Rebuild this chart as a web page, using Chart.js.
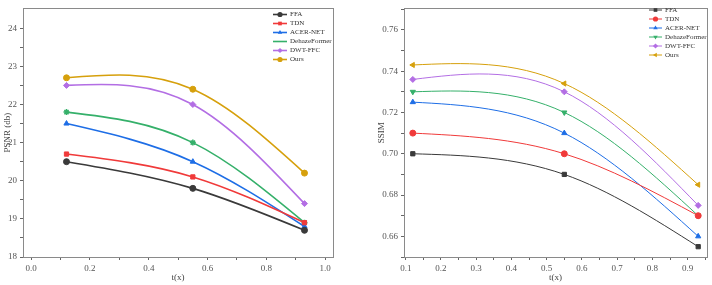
<!DOCTYPE html>
<html>
<head>
<meta charset="utf-8">
<script src="https://cdn.jsdelivr.net/npm/chart.js@4/dist/chart.umd.min.js"></script>
<style>
  html, body { margin: 0; padding: 0; background: #fff; }
  .wrap { display: flex; width: 712px; height: 285px; }
  .box { position: relative; width: 356px; height: 285px; }
</style>
</head>
<body>
<div class="wrap">
  <div class="box"><canvas id="psnrChart" width="356" height="285"></canvas></div>
  <div class="box"><canvas id="ssimChart" width="356" height="285"></canvas></div>
</div>
<script>
// datos
const tValues = [0.12, 0.55, 0.93];
const methods = ['FFA', 'TDN', 'ACER-NET', 'DehazeFormer', 'DWT-FFC', 'Ours'];
const colors = ['#3a3a3a', '#f03a3a', '#1e6ee6', '#35b06a', '#b36ee4', '#d6a00c'];

const psnrFFA = [20.5, 19.8, 18.7];
const psnrTDN = [20.7, 20.1, 18.9];
const psnrACER = [21.5, 20.5, 18.8];
const psnrDehaze = [21.8, 21.0, 18.9];
const psnrDWT = [22.5, 22.0, 19.4];
const psnrOurs = [22.7, 22.4, 20.2];

const ssimFFA = [0.700, 0.690, 0.655];
const ssimTDN = [0.710, 0.700, 0.670];
const ssimACER = [0.725, 0.710, 0.660];
const ssimDehaze = [0.730, 0.720, 0.670];
const ssimDWT = [0.736, 0.730, 0.675];
const ssimOurs = [0.743, 0.734, 0.685];

// ticks
const psnrXTicks = [0, 0.1, 0.2, 0.3, 0.4, 0.5, 0.6, 0.7, 0.8, 0.9, 1.0];
const psnrXLabels = ['0.0', '0.2', '0.4', '0.6', '0.8', '1.0'];
const psnrYTicks = [18, 18.5, 19, 19.5, 20, 20.5, 21, 21.5, 22, 22.5, 23, 23.5, 24];
const psnrYLabels = ['18', '19', '20', '21', '22', '23', '24'];
const ssimXTicks = [0.1, 0.15, 0.2, 0.25, 0.3, 0.35, 0.4, 0.45, 0.5, 0.55, 0.6, 0.65, 0.7, 0.75, 0.8, 0.85, 0.9, 0.95];
const ssimXLabels = ['0.1', '0.2', '0.3', '0.4', '0.5', '0.6', '0.7', '0.8', '0.9'];
const ssimYTicks = [0.65, 0.66, 0.67, 0.68, 0.69, 0.70, 0.71, 0.72, 0.73, 0.74, 0.75, 0.76, 0.77];
const ssimYLabels = ['0.66', '0.68', '0.70', '0.72', '0.74', '0.76'];

const FONT = 'Liberation Serif';

function toPoints(vals) {
    return vals.map((v, i) => ({ x: tValues[i], y: v }));
}

function makeDatasets(series, styles, rotations, radius, width) {
    return series.map((vals, i) => ({
        label: methods[i],
        data: toPoints(vals),
        borderColor: colors[i],
        backgroundColor: colors[i],
        borderWidth: width,
        pointStyle: styles[i],
        rotation: rotations[i],
        pointRadius: radius,
        pointBorderWidth: styles[i] === 'star' ? 1.5 : 1,
        tension: 0.4,
        fill: false
    }));
}

// pendientes de spline natural (como Origin)
function naturalSlopes(xs, ys) {
    const n = xs.length;
    const h = [], s = [];
    for (let i = 0; i < n - 1; i++) {
        h.push(xs[i + 1] - xs[i]);
        s.push((ys[i + 1] - ys[i]) / h[i]);
    }
    const M = new Array(n).fill(0);
    if (n > 2) {
        // sistema tridiagonal para M[1..n-2]
        const a = [], b = [], c = [], d = [];
        for (let i = 1; i < n - 1; i++) {
            a.push(h[i - 1]); b.push(2 * (h[i - 1] + h[i])); c.push(h[i]);
            d.push(6 * (s[i] - s[i - 1]));
        }
        const m = b.length;
        for (let i = 1; i < m; i++) {
            const w = a[i] / b[i - 1];
            b[i] -= w * c[i - 1];
            d[i] -= w * d[i - 1];
        }
        const sol = new Array(m);
        sol[m - 1] = d[m - 1] / b[m - 1];
        for (let i = m - 2; i >= 0; i--) sol[i] = (d[i] - c[i] * sol[i + 1]) / b[i];
        for (let i = 0; i < m; i++) M[i + 1] = sol[i];
    }
    const slopes = [];
    for (let i = 0; i < n - 1; i++) slopes.push(s[i] - h[i] * (2 * M[i] + M[i + 1]) / 6);
    slopes.push(s[n - 2] + h[n - 2] * (M[n - 2] + 2 * M[n - 1]) / 6);
    return slopes;
}

const splinePlugin = {
    id: 'spline',
    beforeDatasetDraw(chart, args) {
        const meta = args.meta;
        const line = meta.dataset;
        const pts = meta.data;
        if (!line || pts.length < 3) return;
        line.updateControlPoints(chart.chartArea);
        const xs = pts.map(p => p.x), ys = pts.map(p => p.y);
        const d = naturalSlopes(xs, ys);
        for (let i = 0; i < pts.length - 1; i++) {
            const hh = (xs[i + 1] - xs[i]) / 3;
            pts[i].cp2x = xs[i] + hh;
            pts[i].cp2y = ys[i] + d[i] * hh;
            pts[i + 1].cp1x = xs[i + 1] - hh;
            pts[i + 1].cp1y = ys[i + 1] - d[i + 1] * hh;
        }
    }
};

// marco + leyenda
const framePlugin = {
    id: 'frame',
    afterDraw(chart) {
        const a = chart.chartArea;
        const ctx = chart.ctx;
        ctx.save();
        ctx.strokeStyle = '#8a8a8a';
        ctx.lineWidth = 1;
        ctx.strokeRect(Math.round(a.left) + 0.5, Math.round(a.top) + 0.5,
            Math.round(a.right - a.left), Math.round(a.bottom - a.top));
        ctx.restore();

        const lg = chart.options.plugins.boxLegend;
        if (!lg) return;
        ctx.save();
        ctx.font = lg.fontSize + 'px "' + FONT + '"';
        ctx.textBaseline = 'middle';
        chart.data.datasets.forEach((ds, i) => {
            const y = lg.y + i * lg.step;
            ctx.strokeStyle = ds.borderColor;
            ctx.fillStyle = ds.backgroundColor;
            ctx.lineWidth = lg.lineWidth;
            ctx.beginPath();
            ctx.moveTo(lg.x, y);
            ctx.lineTo(lg.x + lg.len, y);
            ctx.stroke();
            ctx.lineWidth = ds.pointBorderWidth;
            Chart.helpers.drawPoint(ctx, {
                pointStyle: ds.pointStyle, radius: lg.radius, rotation: ds.rotation || 0
            }, lg.x + lg.len / 2, y);
            ctx.fillStyle = '#333';
            ctx.fillText(ds.label, lg.x + lg.len + 3, y);
        });
        ctx.restore();
    }
};

function axisOpts(min, max, tickVals, labels, fixed, isY, title, titlePad) {
    return {
        type: 'linear',
        min: min,
        max: max,
        afterBuildTicks: s => { s.ticks = tickVals.map(v => ({ value: v })); },
        afterFit: s => { if (isY) s.width = fixed; else s.height = fixed; },
        ticks: {
            autoSkip: false,
            maxRotation: 0,
            padding: 3,
            color: '#555',
            font: { family: FONT, size: 9 },
            callback: v => {
                const hit = labels.find(l => Math.abs(parseFloat(l) - v) < 1e-6);
                return hit !== undefined ? hit : '';
            }
        },
        grid: {
            display: true,
            drawOnChartArea: false,
            drawTicks: true,
            tickLength: 3,
            tickColor: '#666'
        },
        border: { display: true, color: '#8a8a8a', width: 1 },
        title: {
            display: true,
            text: title,
            color: '#444',
            font: { family: FONT, size: 9 },
            padding: titlePad
        }
    };
}

new Chart(document.getElementById('psnrChart'), {
    type: 'line',
    data: {
        datasets: makeDatasets(
            [psnrFFA, psnrTDN, psnrACER, psnrDehaze, psnrDWT, psnrOurs],
            ['circle', 'rect', 'triangle', 'star', 'rectRot', 'circle'],
            [0, 0, 0, 0, 0, 0], 3, 1.6)
    },
    plugins: [splinePlugin, framePlugin],
    options: {
        responsive: false,
        animation: false,
        layout: { padding: { top: 3, right: 23, left: 0, bottom: 0 } },
        scales: {
            x: axisOpts(-0.028, 1.027, psnrXTicks, psnrXLabels, 28, false, 't(x)', { top: 0, bottom: 2 }),
            y: axisOpts(18, 24.52, psnrYTicks, psnrYLabels, 23, true, 'PSNR (db)', { top: 2, bottom: 0 })
        },
        plugins: {
            legend: { display: false },
            tooltip: { enabled: false },
            boxLegend: { x: 273, y: 14.5, step: 9, len: 14, radius: 2.6, lineWidth: 1.6, fontSize: 7 }
        }
    }
});

new Chart(document.getElementById('ssimChart'), {
    type: 'line',
    data: {
        datasets: makeDatasets(
            [ssimFFA, ssimTDN, ssimACER, ssimDehaze, ssimDWT, ssimOurs],
            ['rect', 'circle', 'triangle', 'triangle', 'rectRot', 'triangle'],
            [0, 0, 0, 180, 0, -90], 3, 1)
    },
    plugins: [splinePlugin, framePlugin],
    options: {
        responsive: false,
        animation: false,
        layout: { padding: { top: 3, right: 3, left: 18, bottom: 0 } },
        scales: {
            x: axisOpts(0.095, 0.955, ssimXTicks, ssimXLabels, 28, false, 't(x)', { top: 0, bottom: 2 }),
            y: axisOpts(0.65, 0.7704, ssimYTicks, ssimYLabels, 30, true, 'SSIM', { top: 2, bottom: 0 })
        },
        plugins: {
            legend: { display: false },
            tooltip: { enabled: false },
            boxLegend: { x: 293, y: 10, step: 9, len: 13, radius: 2.6, lineWidth: 1, fontSize: 7 }
        }
    }
});
</script>
</body>
</html>
